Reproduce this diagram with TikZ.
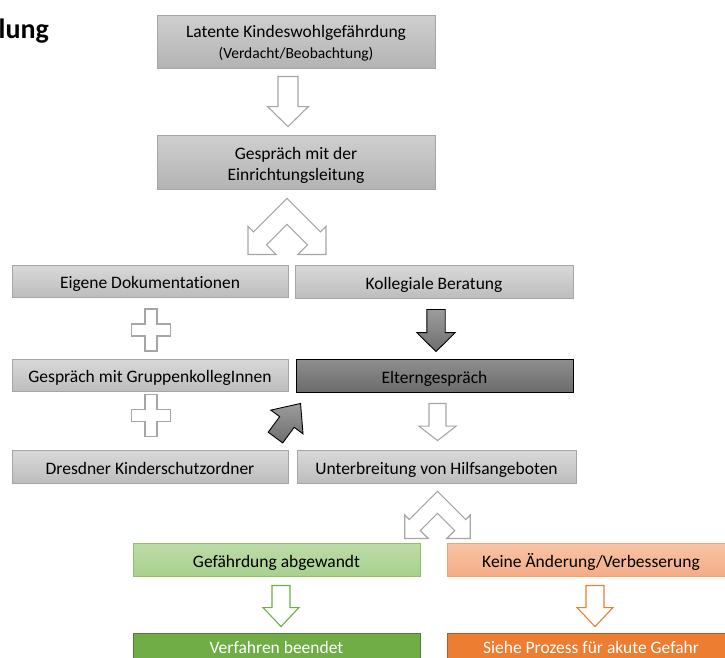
\documentclass[tikz,border=0pt]{standalone}
\usepackage{fontspec}
\setmainfont{Carlito}[Ligatures=NoCommon]
\usetikzlibrary{calc}
\definecolor{bordergray}{HTML}{A6A6A6}
\definecolor{lgtop}{HTML}{D9D9D9}
\definecolor{lgbot}{HTML}{BDBDBD}
\definecolor{mgtop}{HTML}{CFCFCF}
\definecolor{mgbot}{HTML}{B3B3B3}
\definecolor{dgtop}{HTML}{8E8E8E}
\definecolor{dgbot}{HTML}{6C6C6C}
\definecolor{datop}{HTML}{9C9C9C}
\definecolor{dabot}{HTML}{6E6E6E}
\definecolor{grtop}{HTML}{BCDCA8}
\definecolor{grbot}{HTML}{A9D08E}
\definecolor{grline}{HTML}{8DC16E}
\definecolor{ortop}{HTML}{F8C4A6}
\definecolor{orbot}{HTML}{F4AC86}
\definecolor{orline}{HTML}{F3A077}
\definecolor{greenA}{HTML}{70AD47}
\definecolor{greenB}{HTML}{507E32}
\definecolor{orangeA}{HTML}{ED7D31}
\definecolor{orangeB}{HTML}{AE5A21}
% block arrow: style, start, tip, half shaft width, half head width, head length
\newcommand\blockarrow[6]{%
  \coordinate (bah) at ($(#3)!#6!(#2)$);
  \draw[#1] ($(#2)!#4!90:(#3)$) -- ($(bah)!#4!90:(#3)$) -- ($(bah)!#5!90:(#3)$) -- (#3)
    -- ($(bah)!#5!-90:(#3)$) -- ($(bah)!#4!-90:(#3)$) -- ($(#2)!#4!-90:(#3)$) -- cycle;}
\begin{document}
\begin{tikzpicture}[x=1pt,y=-1pt,
  box/.style={rectangle, draw=bordergray, line width=0.9pt, top color=lgtop, bottom color=lgbot,
    inner sep=0pt, font=\fontsize{17.5}{20.7}\selectfont, text height=15pt, text depth=0pt},
  twoline/.style={box, top color=mgtop, bottom color=mgbot, text height=0pt, text depth=0pt},
  darkbox/.style={box, draw=black, top color=dgtop, bottom color=dgbot},
  greenbox/.style={box, draw=grline, top color=grtop, bottom color=grbot},
  orangebox/.style={box, draw=orline, top color=ortop, bottom color=orbot},
  greenend/.style={box, draw=greenB, fill=greenA, top color=greenA, bottom color=greenA, text=white, text height=8pt},
  orangeend/.style={box, draw=orangeB, fill=orangeA, top color=orangeA, bottom color=orangeA, text=white, text height=8pt},
  warrow/.style={draw=bordergray, fill=white, line width=1.1pt, line join=miter},
  darrow/.style={draw=black, line width=0.9pt, top color=datop, bottom color=dabot, line join=miter},
  garrow/.style={warrow, draw=greenA},
  oarrow/.style={warrow, draw=orangeA},
  splitarrow/.pic={\draw[warrow] (0,0) -- (-33.5,33.5) -- (-39,28) -- (-39,56) -- (-11,56) -- (-20.5,46.5)
     -- (0,26) -- (20.5,46.5) -- (11,56) -- (39,56) -- (39,28) -- (33.5,33.5) -- cycle;},
  plussign/.pic={\draw[warrow] (-6,-21) -- (6,-21) -- (6,-6) -- (19.5,-6) -- (19.5,6) -- (6,6) -- (6,21)
     -- (-6,21) -- (-6,6) -- (-19.5,6) -- (-19.5,-6) -- (-6,-6) -- cycle;}
]
\useasboundingbox (0,0) rectangle (725,657);
\clip (0,0) rectangle (725,657);

\node[anchor=base west, inner sep=0pt, font=\fontsize{28}{30}\selectfont\bfseries] (title) at (-1.5,38) {lung};

\node[twoline, minimum width=278pt, minimum height=53pt] (b1) at (296,41.5)
  {\raisebox{-16.5pt}{\begin{tabular}[b]{@{}c@{}}Latente Kindeswohlgefährdung\\{\fontsize{15.5}{18}\selectfont (Verdacht/Beobachtung)}\end{tabular}}};
\node[twoline, minimum width=278pt, minimum height=54pt] (b2) at (296,162)
  {\raisebox{-18pt}{\begin{tabular}[b]{@{}c@{}}Gespräch mit der\\Einrichtungsleitung\end{tabular}}};

\node[box, minimum width=276pt, minimum height=32pt] (b3) at (150,281) {Eigene Dokumentationen};
\node[box, minimum width=278pt, minimum height=33pt] (b4) at (434,281.5) {Kollegiale Beratung};
\node[box, minimum width=276pt, minimum height=32pt] (b5) at (150,375) {Gespräch mit GruppenkollegInnen};
\node[darkbox, minimum width=277pt, minimum height=33pt] (b6) at (434.5,375.5) {Elterngespräch};
\node[box, minimum width=276pt, minimum height=33pt] (b7) at (150,466.5) {Dresdner Kinderschutzordner};
\node[box, minimum width=279pt, minimum height=33pt] (b8) at (436.5,466.5) {Unterbreitung von Hilfsangeboten};

\node[greenbox, minimum width=287pt, minimum height=33pt] (b9) at (276.5,559.5) {Gefährdung abgewandt};
\node[orangebox, minimum width=288pt, minimum height=33pt] (b10) at (591,559.5) {Keine Änderung/Verbesserung};
\node[greenend, minimum width=287pt, minimum height=33pt] (b11) at (276.5,649.5) {Verfahren beendet};
\node[orangeend, minimum width=288pt, minimum height=33pt] (b12) at (591,649.5) {Siehe Prozess für akute Gefahr};

% arrows
\coordinate (a1s) at ($(b1.south)+(-8,8)$);
\coordinate (a1e) at ($(b2.north)+(-8,-8)$);
\blockarrow{warrow}{a1s}{a1e}{10pt}{20.5pt}{20pt}

\coordinate (sp1) at ($(b2.south)+(-9,9)$);
\pic at (sp1) {splitarrow};

\coordinate (p1) at ($(b3.south)!0.5!(b5.north)+(1,2)$);
\pic at (p1) {plussign};
\coordinate (p2) at ($(b5.south)!0.5!(b7.north)+(1,-5)$);
\pic at (p2) {plussign};

\coordinate (a2s) at ($(b4.south)+(2,11)$);
\coordinate (a2e) at ($(b6.north)+(1.5,-7)$);
\blockarrow{darrow}{a2s}{a2e}{9.2pt}{19.2pt}{19pt}

\coordinate (a3s) at ($(b6.south)+(3,11)$);
\coordinate (a3e) at ($(b8.north)+(1,-9)$);
\blockarrow{warrow}{a3s}{a3e}{8.5pt}{18.7pt}{14.5pt}

\coordinate (a4s) at ($(b7.north east)+(-13,-12)$);
\coordinate (a4e) at ($(b6.south west)+(5,11)$);
\blockarrow{darrow}{a4s}{a4e}{9pt}{20pt}{23pt}

\coordinate (sp2) at ($(b8.south)+(1,8)$);
\pic[scale=0.84] at (sp2) {splitarrow};

\coordinate (a5s) at ($(b9.south)+(4.5,9)$);
\coordinate (a5e) at ($(b11.north)+(4.5,-6)$);
\blockarrow{garrow}{a5s}{a5e}{9pt}{18pt}{19pt}

\coordinate (a6s) at ($(b10.south)+(4,9)$);
\coordinate (a6e) at ($(b12.north)+(4,-6)$);
\blockarrow{oarrow}{a6s}{a6e}{9pt}{18pt}{19pt}
\end{tikzpicture}
\end{document}
